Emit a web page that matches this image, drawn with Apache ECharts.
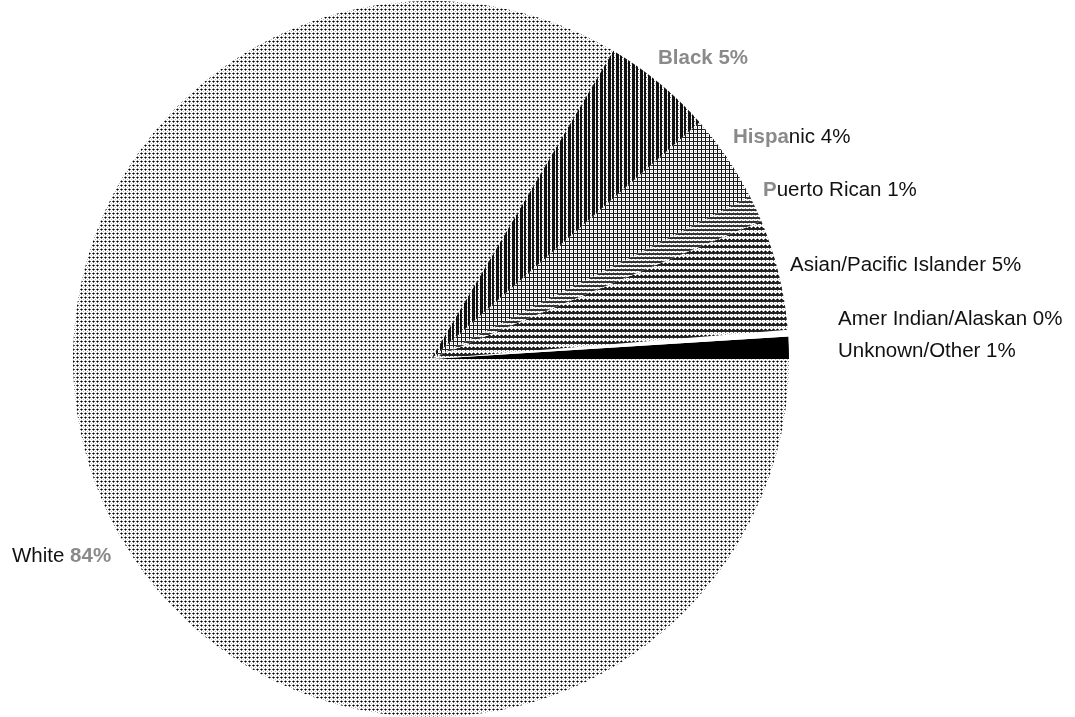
<!DOCTYPE html>
<html>
<head>
<meta charset="utf-8">
<script src="https://cdn.jsdelivr.net/npm/echarts@6/dist/echarts.min.js"></script>
<style>
html,body{margin:0;padding:0;background:#fff;}
#chart{width:1075px;height:717px;}
</style>
</head>
<body>
<div id="chart"></div>
<script>
// ---- data ----
const categories = ['Unknown/Other', 'Amer Indian/Alaskan', 'Asian/Pacific Islander', 'Puerto Rican', 'Hispanic', 'Black', 'White'];
const values = [1.0, 0.3, 5.0, 1.2, 4.0, 5.0, 83.5];
// label anchor points (left edge, vertical middle) in pixels
const labelX = [838, 838, 790, 763, 733, 658, 12];
const labelY = [351, 319, 265, 190, 137, 58, 556];
// character ranges of each label drawn in dithered grey [start, end]
const greyRange = [null, null, null, [0, 1], [0, 5], [0, 99], [6, 99]];

// ---- halftone patterns ----
function pattern(w, h, cells) {
  const c = document.createElement('canvas');
  c.width = w; c.height = h;
  const g = c.getContext('2d');
  g.fillStyle = '#fff'; g.fillRect(0, 0, w, h);
  cells.forEach(([x, y, col]) => { g.fillStyle = col; g.fillRect(x, y, 1, 1); });
  return { image: c, repeat: 'repeat' };
}
function grid(w, h, extra) {
  const cells = [];
  for (let y = 0; y < h; y += 4) for (let x = 0; x < w; x += 4) {
    cells.push([x + 1, y + 1, '#000'], [x, y + 1, '#555'], [x + 2, y + 1, '#555'],
               [x + 1, y, '#999'], [x + 1, y + 2, '#666'], [x + 3, y + 3, '#bbb']);
  }
  return cells.concat(extra || []);
}
function cols(w, h, list, col) { const r = []; list.forEach(x => { for (let y = 0; y < h; y++) r.push([x, y, col]); }); return r; }
function rows(w, h, list, col) { const r = []; list.forEach(y => { for (let x = 0; x < w; x++) r.push([x, y, col]); }); return r; }

const patWhite = pattern(4, 4, grid(4, 4));
const patBlack = pattern(8, 4, grid(8, 4, cols(8, 4, [0, 1, 2, 4, 5], '#111')));
const patHisp = pattern(4, 4, grid(4, 4, cols(4, 4, [1], '#111').concat(rows(4, 4, [1], '#222'))));
const patPR = pattern(4, 4, grid(4, 4, rows(4, 4, [1, 2], '#333')));
const patAsian = pattern(4, 6, grid(4, 6, rows(4, 6, [0, 1], '#222')));
const colors = ['#000000', '#ffffff', patAsian, patPR, patHisp, patBlack, patWhite];

const chart = echarts.init(document.getElementById('chart'), null, { renderer: 'canvas' });
chart.setOption({
  backgroundColor: '#ffffff',
  animation: false,
  series: [{
    type: 'pie',
    center: [431, 359],
    radius: 358,
    startAngle: 0,
    clockwise: false,
    avoidLabelOverlap: false,
    percentPrecision: 0,
    data: categories.map((n, i) => ({ name: n, value: values[i], itemStyle: { color: colors[i] } })),
    itemStyle: { borderWidth: 0 },
    emphasis: { disabled: true },
    label: {
      show: true,
      position: 'outside',
      fontFamily: 'Liberation Sans, Arial, sans-serif',
      fontSize: 20.5,
      color: '#111',
      formatter: p => {
        const t = p.name + ' ' + p.percent + '%';
        const r = greyRange[p.dataIndex];
        if (!r) return t;
        const a = t.slice(0, r[0]), b = t.slice(r[0], r[1]), c = t.slice(r[1]);
        return a + '{g|' + b + '}' + c;
      },
      rich: { g: { color: '#8a8a8a', fontFamily: 'Liberation Sans, Arial, sans-serif', fontSize: 20.5, fontWeight: 'bold' } }
    },
    labelLine: { show: false },
    labelLayout: p => ({ x: labelX[p.dataIndex], y: labelY[p.dataIndex], align: 'left', verticalAlign: 'middle' })
  }]
});
</script>
</body>
</html>
